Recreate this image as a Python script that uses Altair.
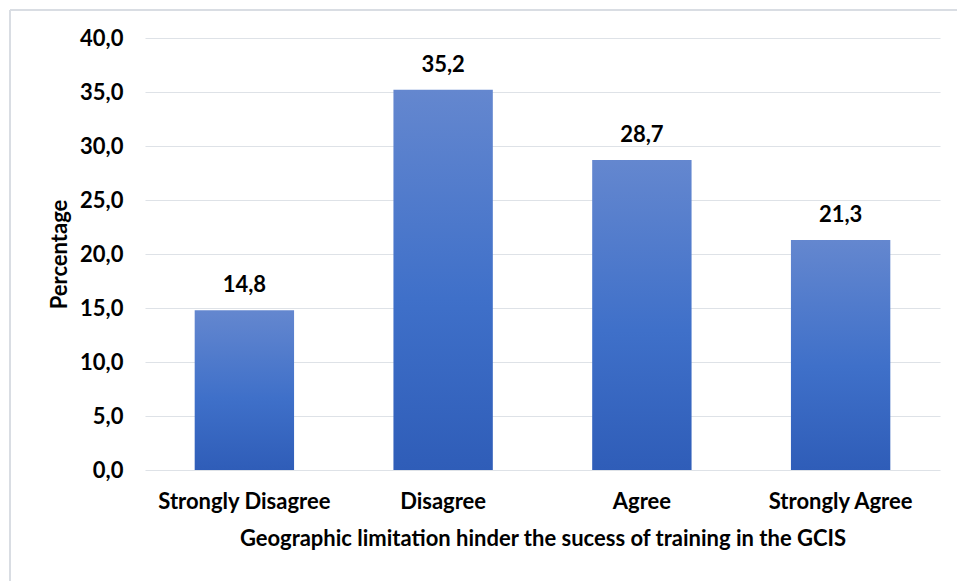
import altair as alt
import pandas as pd

# Survey responses and their share in percent
categories = ["Strongly Disagree", "Disagree", "Agree", "Strongly Agree"]
percentages = [14.8, 35.2, 28.7, 21.3]

x_title = "Geographic limitation hinder the sucess of training in the GCIS"
y_title = "Percentage"

FONT = "Lato"
FS = 22
df = pd.DataFrame({"category": categories, "pct": percentages})

W, H = 795, 432

x_enc = alt.X(
    "category:N",
    sort=categories,
    scale=alt.Scale(paddingInner=0.5, paddingOuter=0.25),
    axis=alt.Axis(
        title=x_title,
        labelAngle=0,
        labelFont=FONT,
        labelFontSize=FS,
        labelFontWeight="bold",
        labelColor="#000000",
        labelPadding=21,
        ticks=False,
        domain=False,
        titleFont=FONT,
        titleFontSize=FS,
        titleFontWeight="bold",
        titleColor="#000000",
        titlePadding=16,
    ),
)
y_enc = alt.Y(
    "pct:Q",
    scale=alt.Scale(domain=[0, 40], nice=False),
    axis=alt.Axis(
        title=y_title,
        values=[0, 5, 10, 15, 20, 25, 30, 35, 40],
        labelExpr="replace(format(datum.value, '.1f'), '.', ',')",
        labelFont=FONT,
        labelFontSize=FS,
        labelFontWeight="bold",
        labelColor="#000000",
        labelPadding=22,
        ticks=False,
        domain=False,
        grid=True,
        gridColor="#DEE2E7",
        gridWidth=1.2,
        titleFont=FONT,
        titleFontSize=FS,
        titleFontWeight="bold",
        titleColor="#000000",
        titlePadding=8,
    ),
)

bars = alt.Chart(df).mark_bar(
    color=alt.Gradient(
        gradient="linear",
        stops=[
            alt.GradientStop(color="#6487CF", offset=0),
            alt.GradientStop(color="#3F70C9", offset=0.55),
            alt.GradientStop(color="#2F5DB8", offset=1),
        ],
        x1=0, x2=0, y1=0, y2=1,
    )
).encode(x=x_enc, y=y_enc)

labels = alt.Chart(df).transform_calculate(
    lbl="replace(format(datum.pct, '.1f'), '.', ',')"
).mark_text(
    font=FONT, fontSize=FS, fontWeight="bold", color="#000000",
    baseline="alphabetic", dy=-18,
).encode(x=alt.X("category:N", sort=categories), y="pct:Q", text="lbl:N")

# Outer frame of the chart (top and left edges fall inside the page)
frame_top = alt.Chart(df).mark_rule(color="#D9DDE3", strokeWidth=1.5).encode(
    x=alt.value(-135), x2=alt.value(W + 40), y=alt.value(-28)
)
frame_left = alt.Chart(df).mark_rule(color="#D9DDE3", strokeWidth=1.5).encode(
    x=alt.value(-135), y=alt.value(-28), y2=alt.value(H + 140)
)

chart = (
    alt.layer(frame_top, frame_left, bars, labels)
    .properties(
        width=W,
        height=H,
        background="white",
        autosize=alt.AutoSizeParams(type="none"),
        padding={"left": 145, "top": 38, "right": 17, "bottom": 111},
    )
    .configure_view(strokeWidth=0, stroke="transparent")
)

chart.save("out.html", embed_options={"renderer": "svg", "actions": False})
